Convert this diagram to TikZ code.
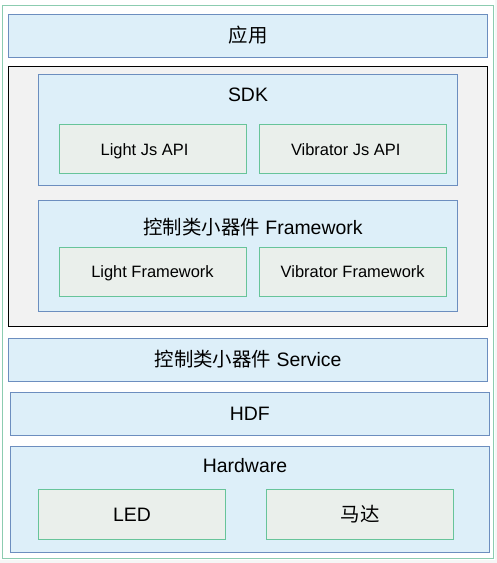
\documentclass[tikz,border=0pt]{standalone}
\usepackage{fontspec}
\setmainfont{Liberation Sans}
\newfontfamily\cjk{Noto Sans CJK SC}
\usetikzlibrary{shapes}
\definecolor{layerfill}{HTML}{DDEFF9}
\definecolor{layerline}{HTML}{6C8EBF}
\definecolor{partfill}{HTML}{EAEFEB}
\definecolor{partline}{HTML}{67C49A}
\definecolor{framefill}{HTML}{F2F2F2}
\definecolor{outerline}{HTML}{8CCCB0}
\tikzset{
  layer/.style={shape=rectangle,draw=layerline,fill=layerfill,line width=0.8pt,align=center,inner sep=0pt},
  part/.style={shape=rectangle,draw=partline,fill=partfill,line width=0.8pt,align=center,inner sep=0pt,text height=11.9pt,text depth=0pt,font=\fontsize{16.5}{19}\selectfont},
  title/.style={inner sep=0pt,text height=14pt,text depth=0pt,font=\fontsize{19.5}{23}\selectfont}
}

\begin{document}
\begin{tikzpicture}[x=1bp,y=-1bp]
\useasboundingbox (0,0) rectangle (497,563);
\fill[framefill!70!white] (0,560) rectangle (497,563);
\fill[framefill!70!white] (495,0) rectangle (497,563);
\node[shape=rectangle,draw=outerline,fill=white,line width=0.8pt,minimum width=491bp,minimum height=553bp] (frame) at (247.7,281.7) {};

\node[layer,title,minimum width=479bp,minimum height=43bp] (app) at (248,35.7) {\cjk 应用};

\node[shape=rectangle,draw=black,fill=framefill,line width=0.8pt,minimum width=479bp,minimum height=260bp] (box) at (247.7,196.5) {};

\node[layer,minimum width=419bp,minimum height=111bp] (sdk) at (248,129.7) {};
\node[title] (sdklabel) at (248,95) {SDK};
\node[part,minimum width=187bp,minimum height=49bp] (lightjs) at (152.5,149.2) {Light Js API\hspace*{16bp}};
\node[part,minimum width=187bp,minimum height=49bp] (vibjs) at (352.7,149.2) {Vibrator Js API\hspace*{14bp}};

\node[layer,minimum width=419bp,minimum height=111bp] (fw) at (248,255.8) {};
\node[title] (fwlabel) at (253,227.5) {{\cjk 控制类小器件} Framework};
\node[part,minimum width=187bp,minimum height=49bp] (lightfw) at (152.5,271.8) {Light Framework};
\node[part,minimum width=187bp,minimum height=49bp] (vibfw) at (352.7,271.8) {Vibrator Framework};

\node[layer,title,minimum width=479bp,minimum height=43bp] (service) at (248,359.8) {{\cjk 控制类小器件} Service};
\node[layer,title,minimum width=479bp,minimum height=43bp] (hdf) at (249.8,413.8) {HDF};

\node[layer,minimum width=479bp,minimum height=106bp] (hw) at (249.8,499.3) {};
\node[title] (hwlabel) at (245,466) {Hardware};
\node[part,title,minimum width=187bp,minimum height=50bp] (led) at (132,514.3) {LED};
\node[part,title,minimum width=187bp,minimum height=50bp] (motor) at (360,514.3) {\cjk 马达};
\end{tikzpicture}
\end{document}
